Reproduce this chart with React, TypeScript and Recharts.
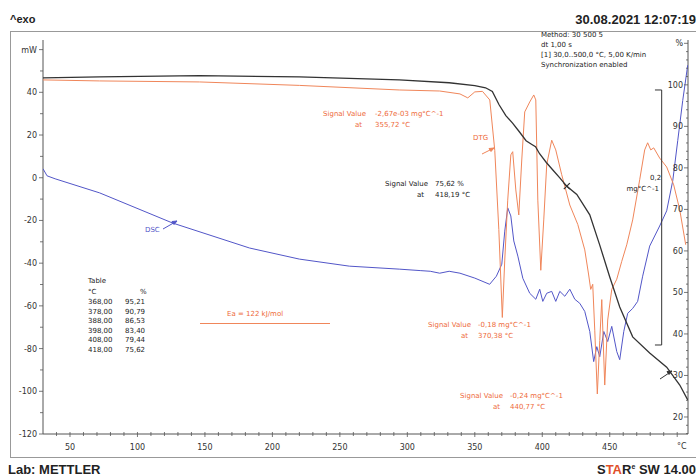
import React from 'react';
import { ComposedChart, Line, XAxis, YAxis, ReferenceLine, ReferenceDot } from 'recharts';

// DSC heat flow (mW) against temperature (°C)
const dscTemp = [30, 33, 39, 72, 126, 183, 220, 257, 294, 310, 317, 324, 331, 339, 350, 361, 366, 370, 372.2, 374.4, 376.7, 378.9, 381.9, 385.6, 390.7, 395.2, 398.1, 400.4, 403.3, 407, 410, 413, 416.7, 420.4, 424.1, 427.8, 431.5, 435.2, 438.1, 440.4, 442.6, 445.6, 448.5, 451.5, 455.2, 457.4, 460.4, 463.3, 467, 470.7, 474.4, 479.6, 487, 492.2, 496.7, 500.4, 504.1, 507.8];
const dscMw = [4.2, 0.9, -0.5, -7.1, -21.2, -32.9, -38.1, -41.4, -42.8, -43.5, -43.8, -44.7, -43.8, -44.7, -47, -49.9, -46.1, -40.5, -25, -14.1, -17.9, -29.6, -36.7, -47.1, -54.1, -56.9, -52.2, -57.9, -54.1, -53.2, -57.9, -53.2, -55.5, -52.2, -56.9, -58.8, -62.6, -72, -86.1, -79.1, -83.8, -72, -76.7, -69.6, -81.4, -85.2, -72, -63.5, -61.2, -57.9, -46.1, -32, -22.6, -15.5, -1.4, 17.4, 36.2, 52.7];

// TGA mass (%)
const tgaTemp = [30, 72, 146, 220, 294, 331, 350, 358, 363, 368, 373, 378, 383, 388, 392, 395, 398, 403, 408, 413, 418, 425.6, 435.2, 442.6, 450, 457.4, 467, 479.6, 492.2, 501.9, 507.8];
const tgaPct = [101.7, 101.9, 102.2, 101.9, 101.2, 100.5, 99.8, 99.3, 98.4, 95.21, 92.6, 90.79, 88.7, 86.53, 85.7, 85.1, 83.4, 81.3, 79.44, 77.6, 75.62, 73.6, 68.7, 61.4, 53.7, 46.5, 39.3, 35.4, 32, 27.7, 24.1];

// DTG (mg/°C)
const dtgTemp = [30, 72, 146, 220, 294, 324, 339, 344.8, 350, 355.7, 361.1, 364.8, 367.8, 370.4, 372.2, 374.4, 376.7, 378.1, 380.4, 382.6, 384.8, 387, 390.7, 393.7, 395.2, 396.7, 398.9, 401.1, 403.3, 407, 410, 414.4, 420.4, 426.3, 431.5, 434.4, 435.9, 437.4, 438.9, 440.8, 442.6, 444.1, 446.3, 448.5, 451.5, 455.2, 458.9, 462.6, 467, 472.2, 475.9, 478.1, 480.4, 482.6, 487, 492.2, 497.4, 501.9, 506.3];
const dtgVal = [0.0063, 0.0055, 0.0047, 0.002, -0.0016, -0.0024, -0.0047, -0.0078, -0.0031, -0.0027, -0.0094, -0.049, -0.111, -0.18, -0.135, -0.088, -0.0525, -0.05, -0.08, -0.0996, -0.0565, -0.0188, -0.011, -0.0055, -0.0094, -0.088, -0.143, -0.1035, -0.06, -0.041, -0.0486, -0.068, -0.0918, -0.107, -0.127, -0.1467, -0.158, -0.154, -0.19, -0.24, -0.198, -0.166, -0.233, -0.182, -0.158, -0.15, -0.136, -0.123, -0.1035, -0.072, -0.0486, -0.043, -0.0486, -0.047, -0.055, -0.062, -0.076, -0.0957, -0.123];

const tableTemps = ['368,00', '378,00', '388,00', '398,00', '408,00', '418,00'];
const tablePcts = ['95,21', '90,79', '86,53', '83,40', '79,44', '75,62'];

const tempTicks = Array.from({ length: 47 }, (_, i) => 40 + i * 10);
const mwTicks = Array.from({ length: 19 }, (_, i) => -120 + i * 10);
const pctTicks = Array.from({ length: 48 }, (_, i) => 16 + i * 2);

const dscData = dscTemp.map((t, i) => ({ t, v: dscMw[i] }));
const tgaData = tgaTemp.map((t, i) => ({ t, v: tgaPct[i] }));
const dtgData = dtgTemp.map((t, i) => ({ t, v: dtgVal[i] }));

const font = '"DejaVu Sans", Verdana, sans-serif';
const bold = '"Liberation Sans", Arial, sans-serif';
const axisColor = '#555';
const blue = '#5256c8';
const orange = '#f0865a';
const orangeText = '#ee6a3a';
const black = '#333';

const PLOT_LEFT = 43;
const PLOT_RIGHT = 688;

function XTick(props: any) {
  const { x, y, payload } = props;
  const v = payload.value;
  const major = v % 50 === 0;
  return (
    <g>
      <line x1={x} x2={x} y1={y - 2} y2={y + (major ? 3 : 2)} stroke={axisColor} strokeWidth={0.8} />
      {major && v <= 450 && (
        <text x={x} y={y + 16} textAnchor="middle" fontSize={8} fontFamily={font} fill="#333">{v}</text>
      )}
    </g>
  );
}

function MwTick(props: any) {
  const { y, payload } = props;
  const x = PLOT_LEFT;
  const v = payload.value;
  const major = v % 20 === 0;
  return (
    <g>
      <line x1={x - (major ? 4 : 3)} x2={x} y1={y} y2={y} stroke={axisColor} strokeWidth={0.8} />
      {major && (
        <text x={x - 6} y={y + 3} textAnchor="end" fontSize={8} fontFamily={font} fill="#333">{v === 60 ? 'mW' : v}</text>
      )}
    </g>
  );
}

function PctTick(props: any) {
  const { y, payload } = props;
  const x = PLOT_RIGHT;
  const v = payload.value;
  const major = v % 10 === 0;
  return (
    <g>
      <line x1={x - (major ? 4 : 2)} x2={x} y1={y} y2={y} stroke={axisColor} strokeWidth={0.8} />
      {major && (
        <text x={x - 5} y={y + 3} textAnchor="end" fontSize={8} fontFamily={font} fill="#333">{v === 110 ? '%' : v}</text>
      )}
    </g>
  );
}

const Cross = (props: any) => {
  const { cx, cy } = props;
  return (
    <g stroke={black} strokeWidth={1.2}>
      <line x1={cx - 3} y1={cy - 3} x2={cx + 3} y2={cy + 3} />
      <line x1={cx - 3} y1={cy + 3} x2={cx + 3} y2={cy - 3} />
    </g>
  );
};

const T = (p: { x: number; y: number; c?: string; s?: number; a?: 'left' | 'right'; children: React.ReactNode }) => (
  <div
    style={{
      position: 'absolute',
      left: p.a === 'right' ? undefined : p.x,
      right: p.a === 'right' ? 696 - p.x : undefined,
      top: p.y - (p.s || 7) * 0.65,
      fontSize: p.s || 7,
      lineHeight: 1,
      color: p.c || '#222',
      fontFamily: font,
      whiteSpace: 'nowrap',
    }}
  >
    {p.children}
  </div>
);

export default function App() {
  return (
    <div style={{ position: 'fixed', left: 0, top: 0, width: 696, height: 476, background: '#fff', overflow: 'hidden' }}>
      <div style={{ position: 'absolute', left: 10, top: 31, width: 700, height: 425, border: '1.5px solid #999' }} />
      <div style={{ position: 'absolute', left: 0, top: 0 }}>
        <ComposedChart width={696} height={476} margin={{ top: 40, right: 8, bottom: 0, left: 0 }}>
          <XAxis
            dataKey="t"
            type="number"
            domain={[30, 508]}
            ticks={tempTicks}
            interval={0}
            allowDataOverflow
            height={42}
            tickSize={0}
            tickMargin={0}
            tickLine={false}
            tick={<XTick />}
            stroke={axisColor}
          />
          <YAxis
            yAxisId="mw"
            type="number"
            domain={[-120, 64.5]}
            ticks={mwTicks}
            interval={0}
            allowDataOverflow
            width={43}
            tickSize={0}
            tickMargin={0}
            tickLine={false}
            tick={<MwTick />}
            axisLine={false}
          />
          <YAxis
            yAxisId="pct"
            orientation="right"
            mirror
            type="number"
            domain={[15.9, 110.8]}
            ticks={pctTicks}
            interval={0}
            allowDataOverflow
            width={30}
            tickSize={0}
            tickMargin={0}
            tickLine={false}
            tick={<PctTick />}
            axisLine={false}
          />
          <YAxis yAxisId="dtg" hide type="number" domain={[-0.2714, 0.0376]} allowDataOverflow />
          <ReferenceLine yAxisId="mw" x={30} stroke={axisColor} strokeWidth={1} />
          <ReferenceLine yAxisId="mw" x={508} stroke={axisColor} strokeWidth={1} />
          <Line yAxisId="mw" data={dscData} dataKey="v" type="linear" dot={false} stroke={blue} strokeWidth={1} isAnimationActive={false} />
          <Line yAxisId="dtg" data={dtgData} dataKey="v" type="linear" dot={false} stroke={orange} strokeWidth={1} isAnimationActive={false} />
          <Line yAxisId="pct" data={tgaData} dataKey="v" type="linear" dot={false} stroke={black} strokeWidth={1.3} isAnimationActive={false} />
          <ReferenceDot yAxisId="pct" x={418.19} y={75.62} r={3} shape={<Cross />} />
          <ReferenceLine yAxisId="dtg" segment={[{ x: 488.5, y: -0.0016 }, { x: 488.5, y: -0.2016 }]} stroke="#333" strokeWidth={1} />
          <ReferenceLine yAxisId="dtg" segment={[{ x: 483.5, y: -0.0016 }, { x: 488.5, y: -0.0016 }]} stroke="#333" strokeWidth={1} />
          <ReferenceLine yAxisId="dtg" segment={[{ x: 483.5, y: -0.2016 }, { x: 488.5, y: -0.2016 }]} stroke="#333" strokeWidth={1} />
        </ComposedChart>
      </div>

      {/* header / footer */}
      <div style={{ position: 'absolute', left: 10, top: 13, fontFamily: bold, fontWeight: 700, fontSize: 11, color: '#222' }}>^exo</div>
      <div style={{ position: 'absolute', right: 0, top: 12, fontFamily: bold, fontWeight: 700, fontSize: 13, color: '#222' }}>30.08.2021 12:07:19</div>
      <div style={{ position: 'absolute', left: 8, top: 462, fontFamily: bold, fontWeight: 700, fontSize: 13, color: '#222' }}>Lab: METTLER</div>
      <div style={{ position: 'absolute', right: 0, top: 462, fontFamily: bold, fontWeight: 700, fontSize: 13, color: '#222' }}>
        S<span style={{ color: '#e0502a' }}>TA</span>R<sup style={{ fontSize: 7 }}>e</sup> SW 14.00
      </div>

      {/* x axis unit */}
      <div style={{ position: 'absolute', left: 677, top: 442, fontFamily: font, fontSize: 8, color: '#333' }}>°C</div>

      {/* method block */}
      <T x={541} y={37}>Method: 30 500 5</T>
      <T x={541} y={47}>dt 1,00 s</T>
      <T x={541} y={57}>[1] 30,0..500,0 °C, 5,00 K/min</T>
      <T x={541} y={67}>Synchronization enabled</T>

      {/* signal annotations */}
      <T x={366} y={116} c={orangeText} a="right">Signal Value</T>
      <T x={375} y={116} c={orangeText}>-2,67e-03 mg°C^-1</T>
      <T x={362} y={127} c={orangeText} a="right">at</T>
      <T x={375} y={127} c={orangeText}>355,72 °C</T>

      <T x={473} y={140} c={orangeText}>DTG</T>

      <T x={428} y={186} a="right">Signal Value</T>
      <T x={435} y={186}>75,62 %</T>
      <T x={424} y={197} a="right">at</T>
      <T x={435} y={197}>418,19 °C</T>

      <T x={145} y={232} c={blue}>DSC</T>

      <T x={88} y={283}>Table</T>
      <T x={88} y={294}>°C</T>
      <T x={140} y={294}>%</T>
      {tableTemps.map((t, i) => (
        <React.Fragment key={t}>
          <T x={88} y={304 + i * 9.5}>{t}</T>
          <T x={125} y={304 + i * 9.5}>{tablePcts[i]}</T>
        </React.Fragment>
      ))}

      <T x={227} y={316} c={orangeText}>Ea = 122 kJ/mol</T>
      <div style={{ position: 'absolute', left: 200, top: 323, width: 130, height: 1, background: orange }} />

      <T x={471} y={327} c={orangeText} a="right">Signal Value</T>
      <T x={478} y={327} c={orangeText}>-0,18 mg°C^-1</T>
      <T x={468} y={338} c={orangeText} a="right">at</T>
      <T x={478} y={338} c={orangeText}>370,38 °C</T>

      <T x={503} y={398} c={orangeText} a="right">Signal Value</T>
      <T x={510} y={398} c={orangeText}>-0,24 mg°C^-1</T>
      <T x={500} y={409} c={orangeText} a="right">at</T>
      <T x={510} y={409} c={orangeText}>440,77 °C</T>

      <T x={650} y={180}>0,2</T>
      <T x={659} y={191} a="right">mg°C^-1</T>

      {/* arrows */}
      <svg style={{ position: 'absolute', left: 0, top: 0 }} width={696} height={476}>
        <g strokeWidth={1}>
          <line x1={163} y1={229} x2={177} y2={221} stroke={blue} />
          <path d="M177 221 l-5 0.5 l2 3 z" fill={blue} stroke={blue} />
          <line x1={482} y1={154} x2={494} y2={148} stroke={orange} />
          <path d="M494 148 l-5 0.5 l2 3 z" fill={orange} stroke={orange} />
          <line x1={660} y1={379} x2={672} y2={371} stroke={black} />
          <path d="M672 371 l-5 0.5 l2 3 z" fill={black} stroke={black} />
        </g>
      </svg>
    </div>
  );
}
